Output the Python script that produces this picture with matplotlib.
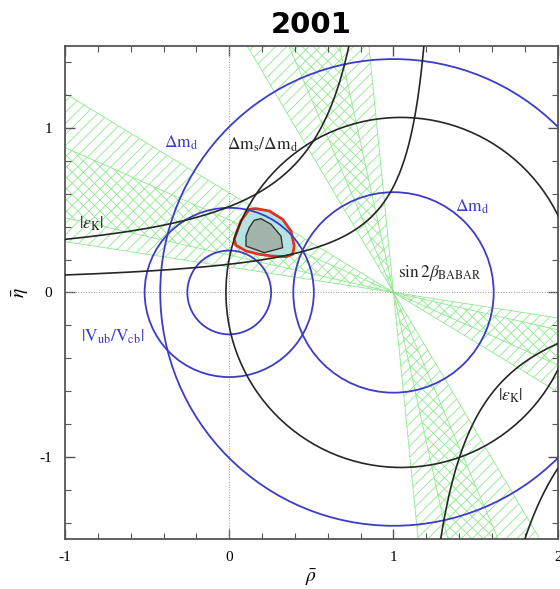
import numpy as np
import matplotlib.pyplot as plt
from matplotlib.patches import Circle, Polygon

plt.rcParams['mathtext.fontset'] = 'stix'
plt.rcParams['font.family'] = ['Liberation Serif', 'DejaVu Serif']
plt.rcParams['axes.unicode_minus'] = False
plt.rcParams['hatch.linewidth'] = 0.6
plt.rcParams['hatch.color'] = '#8ee88e'

blue = '#3c3cc8'
black = '#262626'
green = '#8ee88e'

# constraint circles: (rho0, eta0, radius)
dmd_circles = [(1.0, 0.0, 0.61), (1.0, 0.0, 1.42)]
vub_circles = [(0.0, 0.0, 0.255), (0.0, 0.0, 0.515)]
dms_circles = [(1.045, 0.0, 1.065)]

# |eps_K| boundaries: eta = d + c / (a - rho), on [rho_lo, rho_hi]
epsk_a = [1.03, 1.03, 1.32, 1.30]
epsk_c = [0.4165, 0.4165, 0.20, 0.75]
epsk_d = [0.118, 0.118, 0.02, 0.0]
epsk_lo = [-1.0, 1.03, -1.0, 1.30]
epsk_hi = [1.03, 2.0, 1.32, 2.0]

# sin 2beta wedges from the apex (1, 0): beta ranges in degrees
beta_outer = [(8.8, 31.2), (59.3, 84.3)]
beta_inner = [(12.8, 23.8), (67.0, 77.6)]

# global fit contours
fit_outer_rho = [0.030, 0.071, 0.122, 0.163, 0.244, 0.325, 0.376, 0.396,
                 0.386, 0.346, 0.264, 0.183, 0.102, 0.041]
fit_outer_eta = [0.323, 0.435, 0.506, 0.510, 0.496, 0.445, 0.374, 0.282,
                 0.232, 0.218, 0.221, 0.232, 0.252, 0.287]
fit_inner_rho = [0.122, 0.152, 0.193, 0.254, 0.315, 0.325, 0.213, 0.102, 0.102]
fit_inner_eta = [0.395, 0.439, 0.449, 0.415, 0.343, 0.272, 0.242, 0.282, 0.343]

labels = [
    (r'$\Delta\mathrm{m}_\mathrm{d}$', -0.29, 0.91, blue),
    (r'$\Delta\mathrm{m}_\mathrm{s}/\Delta\mathrm{m}_\mathrm{d}$', 0.2, 0.90, black),
    (r'$|\varepsilon_\mathrm{K}|$', -0.84, 0.42, black),
    (r'$\Delta\mathrm{m}_\mathrm{d}$', 1.48, 0.52, blue),
    (r'$\sin 2\beta_\mathrm{BABAR}$', 1.28, 0.12, black),
    (r'$|\mathrm{V}_\mathrm{ub}/\mathrm{V}_\mathrm{cb}|$', -0.71, -0.27, blue),
    (r'$|\varepsilon_\mathrm{K}|$', 1.71, -0.63, black),
]

fig = plt.figure(figsize=(5.6, 5.89), dpi=100)
ax = fig.add_axes([0.116, 0.085, 0.88, 0.837])
ax.set_xlim(-1, 2)
ax.set_ylim(-1.5, 1.5)


def wedge(lo, hi, R=5.0):
    lo, hi = np.radians(lo), np.radians(hi)
    return [(1, 0),
            (1 - R * np.cos(lo), R * np.sin(lo)),
            (1 - R * np.cos(hi), R * np.sin(hi)),
            (1, 0),
            (1 + R * np.cos(hi), -R * np.sin(hi)),
            (1 + R * np.cos(lo), -R * np.sin(lo))]


for lo, hi in beta_outer:
    ax.add_patch(Polygon(wedge(lo, hi), closed=True, fill=False, hatch='///',
                         edgecolor=green, lw=0.6, zorder=1))
for lo, hi in beta_inner:
    ax.add_patch(Polygon(wedge(lo, hi), closed=True, fill=False, hatch='\\\\\\',
                         edgecolor=green, lw=0.6, zorder=1))

ax.axvline(0, color='#999999', lw=0.7, ls=':', zorder=2)
ax.axhline(0, color='#999999', lw=0.7, ls=':', zorder=2)

ax.add_patch(Polygon(list(zip(fit_outer_rho, fit_outer_eta)), closed=True,
                     facecolor='#b3e3e3', edgecolor='#e0341f', lw=2.0, zorder=3,
                     joinstyle='round'))
ax.add_patch(Polygon(list(zip(fit_inner_rho, fit_inner_eta)), closed=True,
                     facecolor='#a3b4ab', edgecolor='#333333', lw=1.0, zorder=4,
                     joinstyle='round'))

for x0, y0, r in dmd_circles + vub_circles:
    ax.add_patch(Circle((x0, y0), r, fill=False, edgecolor=blue, lw=1.3, zorder=5))
for x0, y0, r in dms_circles:
    ax.add_patch(Circle((x0, y0), r, fill=False, edgecolor=black, lw=1.2, zorder=5))

for a, c, d, lo, hi in zip(epsk_a, epsk_c, epsk_d, epsk_lo, epsk_hi):
    rho = np.linspace(lo, hi, 800)[1:-1]
    eta = d + c / (a - rho)
    keep = np.abs(eta) < 1.7
    ax.plot(rho[keep], eta[keep], color=black, lw=1.2, zorder=5)

for txt, x, y, col in labels:
    ax.text(x, y, txt, color=col, fontsize=12.5, ha='center', va='center', zorder=6)

ax.set_xticks([-1, 0, 1, 2])
ax.set_yticks([-1, 0, 1])
ax.set_xticks(np.arange(-1, 2.01, 0.2), minor=True)
ax.set_yticks(np.arange(-1.4, 1.41, 0.2), minor=True)
ax.tick_params(which='both', direction='in', top=True, right=True,
               color='#555555', labelsize=11)
ax.tick_params(which='major', length=7, width=1.0, pad=9)
ax.tick_params(which='minor', length=4, width=0.8)
for s in ax.spines.values():
    s.set_color('#555555')
    s.set_linewidth(1.3)

ax.set_xlabel(r'$\bar{\rho}$', fontsize=14, labelpad=2)
ax.set_ylabel(r'$\bar{\eta}$', fontsize=14, labelpad=6)

fig.text(0.555, 0.957, '2001', ha='center', va='center', fontsize=21,
         fontweight='bold', family='DejaVu Sans')

fig.savefig('out.png', dpi=100)
